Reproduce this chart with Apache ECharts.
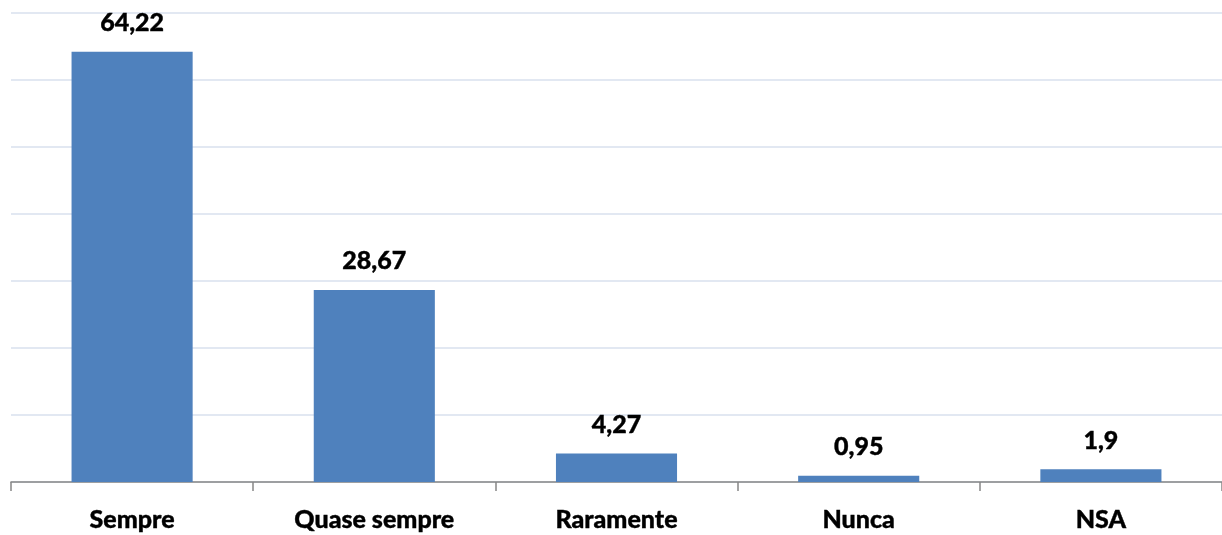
<!DOCTYPE html>
<html><head><meta charset="utf-8">
<script src="https://cdn.jsdelivr.net/npm/echarts@6/dist/echarts.min.js"></script>
<style>html,body{margin:0;padding:0;background:#fff}#c{width:1222px;height:535px}</style>
</head><body><div id="c"></div>
<script>
const categories = ["Sempre", "Quase sempre", "Raramente", "Nunca", "NSA"];
const values = [64.22, 28.67, 4.27, 0.95, 1.9];
const valueLabels = ["64,22", "28,67", "4,27", "0,95", "1,9"];

const chart = echarts.init(document.getElementById('c'));
chart.setOption({
  animation: false,
  grid: { left: 11, right: 0, top: 13, bottom: 53, containLabel: false },
  xAxis: {
    type: 'category', data: categories,
    axisLine: { lineStyle: { color: '#868686', width: 1.5 } },
    axisTick: { show: true, length: 9, lineStyle: { color: '#868686', width: 1.5 } },
    axisLabel: { color: '#000', fontFamily: 'Lato', fontWeight: 900, fontSize: 25, margin: 25,
      textBorderColor: '#000', textBorderWidth: 0.4 }
  },
  yAxis: {
    type: 'value', min: 0, max: 70, interval: 10,
    axisLabel: { show: false }, axisLine: { show: false }, axisTick: { show: false },
    splitLine: { lineStyle: { color: '#d9e1ee', width: 1.5 } }
  },
  series: [{
    type: 'bar', data: values, barWidth: '50%',
    itemStyle: { color: '#4f81bd' },
    label: {
      show: true, position: 'top', distance: 16,
      color: '#000', fontFamily: 'Lato', fontWeight: 900, fontSize: 25,
      textBorderColor: '#000', textBorderWidth: 0.4,
      formatter: p => valueLabels[p.dataIndex]
    }
  }]
});
</script></body></html>
